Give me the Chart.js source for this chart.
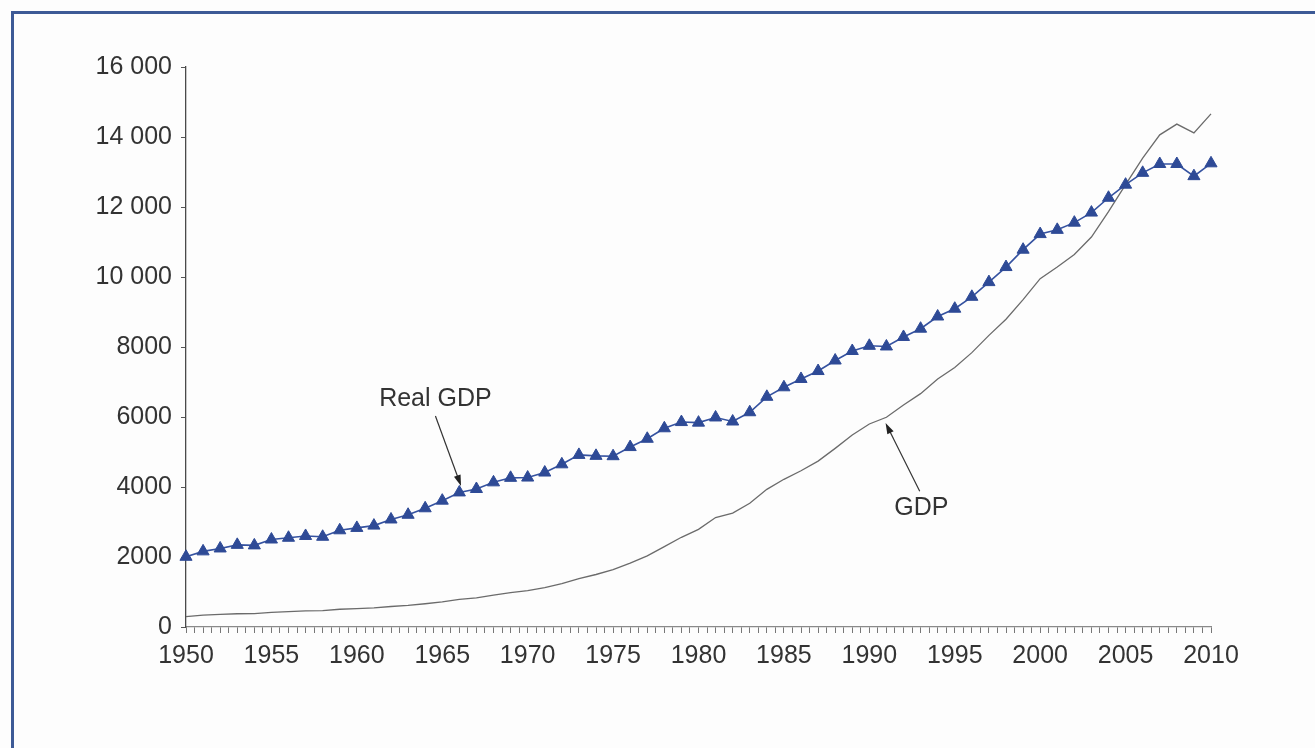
<!DOCTYPE html>
<html>
<head>
<meta charset="utf-8">
<script src="https://cdn.jsdelivr.net/npm/chart.js@4/dist/chart.umd.min.js"></script>
<style>
  html, body { margin: 0; padding: 0; background: #fdfdfd; }
  #wrap { position: relative; width: 1315px; height: 748px; overflow: hidden; background: #fdfdfd; }
  #frameTop { position: absolute; left: 11px; top: 11px; width: 1304px; height: 3px; background: #3d5a96; }
  #frameLeft { position: absolute; left: 11px; top: 11px; width: 3px; height: 737px; background: #3d5a96; }
  canvas { position: absolute; left: 0; top: 0; }
</style>
</head>
<body>
<div id="wrap">
  <canvas id="c" width="1315" height="748"></canvas>
  <div id="frameTop"></div>
  <div id="frameLeft"></div>
</div>
<script>
// ---- Data (billions of dollars) ----
const years = [1950,1951,1952,1953,1954,1955,1956,1957,1958,1959,
               1960,1961,1962,1963,1964,1965,1966,1967,1968,1969,
               1970,1971,1972,1973,1974,1975,1976,1977,1978,1979,
               1980,1981,1982,1983,1984,1985,1986,1987,1988,1989,
               1990,1991,1992,1993,1994,1995,1996,1997,1998,1999,
               2000,2001,2002,2003,2004,2005,2006,2007,2008,2009,2010];

const realGDP = [2006,2161,2244,2347,2332,2500,2550,2601,2578,2763,
                 2831,2897,3072,3207,3392,3610,3845,3943,4133,4262,
                 4270,4413,4648,4917,4890,4880,5141,5378,5678,5855,
                 5839,5987,5871,6136,6577,6849,7087,7313,7614,7886,
                 8034,8015,8287,8523,8871,9094,9434,9854,10284,10780,
                 11226,11347,11553,11841,12264,12638,12976,13229,13229,12881,13248];

const nominalGDP = [294,339,358,379,380,415,437,461,467,507,
                    526,545,586,618,664,719,788,833,910,985,
                    1039,1127,1238,1383,1500,1638,1825,2031,2295,2563,
                    2790,3128,3255,3537,3933,4220,4463,4740,5104,5484,
                    5800,5992,6342,6667,7085,7415,7839,8332,8794,9354,
                    9952,10286,10642,11142,11868,12638,13399,14062,14369,14119,14660];

const yTicks = [0,2000,4000,6000,8000,10000,12000,14000,16000];
const xLabelYears = [1950,1955,1960,1965,1970,1975,1980,1985,1990,1995,2000,2005,2010];

// annotation labels (data coordinates)
const notes = [
  { text: 'Real GDP', tx: 1964.6, ty: 6510, fx: 1964.6, fy: 6030, ax: 1966.1, ay: 4030 },
  { text: 'GDP',      tx: 1993.05, ty: 3400, fx: 1992.95, fy: 3880, ax: 1990.95, ay: 5830 }
];

const FONT = "'Liberation Sans', Arial, Helvetica, sans-serif";

function fmt(v) {
  if (v >= 10000) {
    const s = String(v);
    return s.slice(0, s.length - 3) + ' ' + s.slice(s.length - 3);
  }
  return String(v);
}

const notePlugin = {
  id: 'notes',
  afterDatasetsDraw(chart) {
    const ctx = chart.ctx;
    const xs = chart.scales.x, ys = chart.scales.y;
    ctx.save();
    notes.forEach(n => {
      const tx = xs.getPixelForValue(n.tx), ty = ys.getPixelForValue(n.ty);
      ctx.font = '25px ' + FONT;
      ctx.fillStyle = '#333';
      ctx.textAlign = 'center';
      ctx.textBaseline = 'middle';
      ctx.fillText(n.text, tx, ty);
      const x1 = xs.getPixelForValue(n.fx), y1 = ys.getPixelForValue(n.fy);
      const x2 = xs.getPixelForValue(n.ax), y2 = ys.getPixelForValue(n.ay);
      const ang = Math.atan2(y2 - y1, x2 - x1);
      const hl = 11, hw = 3.5;
      ctx.strokeStyle = '#333';
      ctx.lineWidth = 1.2;
      ctx.beginPath();
      ctx.moveTo(x1, y1);
      ctx.lineTo(x2 - Math.cos(ang) * hl * 0.8, y2 - Math.sin(ang) * hl * 0.8);
      ctx.stroke();
      ctx.fillStyle = '#222';
      ctx.beginPath();
      ctx.moveTo(x2, y2);
      ctx.lineTo(x2 - Math.cos(ang) * hl - Math.sin(ang) * hw, y2 - Math.sin(ang) * hl + Math.cos(ang) * hw);
      ctx.lineTo(x2 - Math.cos(ang) * hl + Math.sin(ang) * hw, y2 - Math.sin(ang) * hl - Math.cos(ang) * hw);
      ctx.closePath();
      ctx.fill();
    });
    ctx.restore();
  }
};

new Chart(document.getElementById('c'), {
  type: 'line',
  data: {
    datasets: [
      {
        label: 'GDP',
        data: years.map((y, i) => ({ x: y, y: nominalGDP[i] })),
        borderColor: '#6b6b6b',
        borderWidth: 1.3,
        pointRadius: 0,
        tension: 0,
        clip: false,
        order: 2
      },
      {
        label: 'Real GDP',
        data: years.map((y, i) => ({ x: y, y: realGDP[i] })),
        borderColor: '#3552a0',
        borderWidth: 1.6,
        pointStyle: 'triangle',
        pointRadius: 7,
        pointBackgroundColor: '#2e4a96',
        pointBorderColor: '#2e4a96',
        pointBorderWidth: 1,
        tension: 0,
        clip: false,
        order: 1
      }
    ]
  },
  options: {
    responsive: false,
    animation: false,
    events: [],
    layout: { padding: { left: 20, right: 104, top: 67, bottom: 81 } },
    plugins: { legend: { display: false }, tooltip: { enabled: false } },
    scales: {
      x: {
        type: 'linear',
        min: 1950, max: 2010,
        afterFit(scale) { scale.height = 40; },
        border: { display: true, color: '#8a8a8a', width: 1.3 },
        grid: { drawOnChartArea: false, drawTicks: true, tickLength: 6, color: '#777', lineWidth: 1 },
        afterBuildTicks(scale) {
          const t = [];
          for (let v = 1950; v <= 2010.001; v += 0.5) t.push({ value: v });
          scale.ticks = t;
        },
        ticks: {
          autoSkip: false,
          maxRotation: 0,
          padding: 8,
          color: '#333',
          font: { family: FONT, size: 25 },
          callback(v) { return xLabelYears.includes(v) ? String(v) : ''; }
        }
      },
      y: {
        min: 0, max: 16000,
        afterFit(scale) { scale.width = 166; },
        afterBuildTicks(scale) { scale.ticks = yTicks.map(v => ({ value: v })); },
        border: { display: true, color: '#4a4a4a', width: 1.3 },
        grid: { drawOnChartArea: false, drawTicks: true, tickLength: 5, color: '#555' },
        ticks: {
          padding: 9,
          color: '#333',
          font: { family: FONT, size: 25 },
          callback(v) { return fmt(v); }
        }
      }
    }
  },
  plugins: [notePlugin]
});
</script>
</body>
</html>
